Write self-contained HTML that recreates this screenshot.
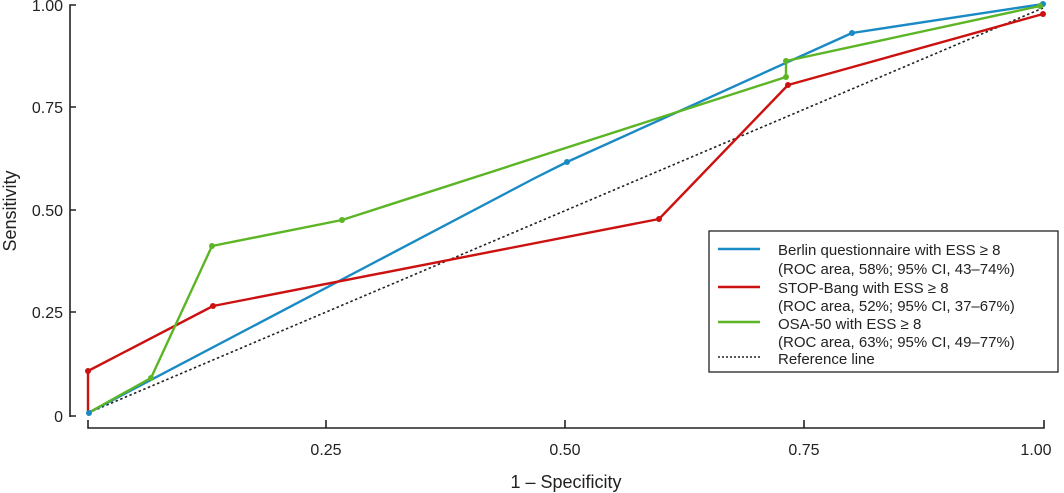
<!DOCTYPE html>
<html><head><meta charset="utf-8"><style>
html,body{margin:0;padding:0;background:#fff;}
svg{display:block;font-family:"Liberation Sans",sans-serif;}
</style></head><body>
<svg width="1064" height="493" viewBox="0 0 1064 493" xmlns="http://www.w3.org/2000/svg">
<g stroke="#222" stroke-width="1.6" fill="none">
<path d="M76 5H70V417"/>
<path d="M70 107H76M70 210H76M70 312H76M70 416H76"/>
<path d="M88 420V428H1044V420"/>
<path d="M326 428V420M565 428V420M804 428V420"/>
</g>
<g font-size="16" fill="#222" text-anchor="end">
<text x="63" y="11">1.00</text>
<text x="63" y="113">0.75</text>
<text x="63" y="216">0.50</text>
<text x="63" y="318">0.25</text>
<text x="63" y="422">0</text>
</g>
<g font-size="16" fill="#222" text-anchor="middle">
<text x="326" y="455">0.25</text>
<text x="565" y="455">0.50</text>
<text x="804" y="455">0.75</text>
<text x="1036" y="455">1.00</text>
<text x="566" y="488" font-size="18">1 – Specificity</text>
</g>
<text transform="translate(16 211) rotate(-90)" font-size="18" fill="#222" text-anchor="middle">Sensitivity</text>
<path d="M88 413L1043 8" stroke="#222" stroke-width="1.6" stroke-dasharray="2.5,2.5" fill="none"/>
<g fill="none" stroke-width="2.4" stroke-linejoin="round">
<polyline stroke="#1a8ac4" points="88,413 535,178 567,162 852,33 1043,4"/>
<polyline stroke="#cc1111" points="88,413 88,371 213,306 659,219 788,85 1043,14"/>
<polyline stroke="#5bb525" points="88,413 151,378 212,246 342,220 786,77 786,61 1040,6"/>
</g>
<g fill="#1a8ac4"><circle cx="89" cy="413" r="3"/><circle cx="567" cy="162" r="3"/><circle cx="852" cy="33" r="3"/><circle cx="1043" cy="4" r="3"/></g>
<g fill="#cc1111"><circle cx="88" cy="371" r="3"/><circle cx="213" cy="306" r="3"/><circle cx="659" cy="219" r="3"/><circle cx="788" cy="85" r="3"/><circle cx="1043" cy="14" r="3"/></g>
<g fill="#5bb525"><circle cx="151" cy="378" r="3"/><circle cx="212" cy="246" r="3"/><circle cx="342" cy="220" r="3"/><circle cx="786" cy="77" r="3"/><circle cx="786" cy="61" r="3"/><circle cx="1040" cy="6" r="3"/></g>
<rect x="709" y="231" width="349" height="141" fill="#fff" stroke="#222" stroke-width="1.3"/>
<g stroke-width="2.4">
<path d="M718 249H760" stroke="#1a8ac4"/>
<path d="M718 287H760" stroke="#cc1111"/>
<path d="M718 322H760" stroke="#5bb525"/>
</g>
<path d="M718 357H760" stroke="#222" stroke-width="1.6" stroke-dasharray="2,2"/>
<g font-size="15" fill="#222">
<text x="778" y="255">Berlin questionnaire with ESS ≥ 8</text>
<text x="778" y="274">(ROC area, 58%; 95% CI, 43–74%)</text>
<text x="778" y="293">STOP-Bang with ESS ≥ 8</text>
<text x="778" y="311">(ROC area, 52%; 95% CI, 37–67%)</text>
<text x="778" y="329">OSA-50 with ESS ≥ 8</text>
<text x="778" y="347">(ROC area, 63%; 95% CI, 49–77%)</text>
<text x="778" y="364">Reference line</text>
</g>
</svg>
</body></html>
